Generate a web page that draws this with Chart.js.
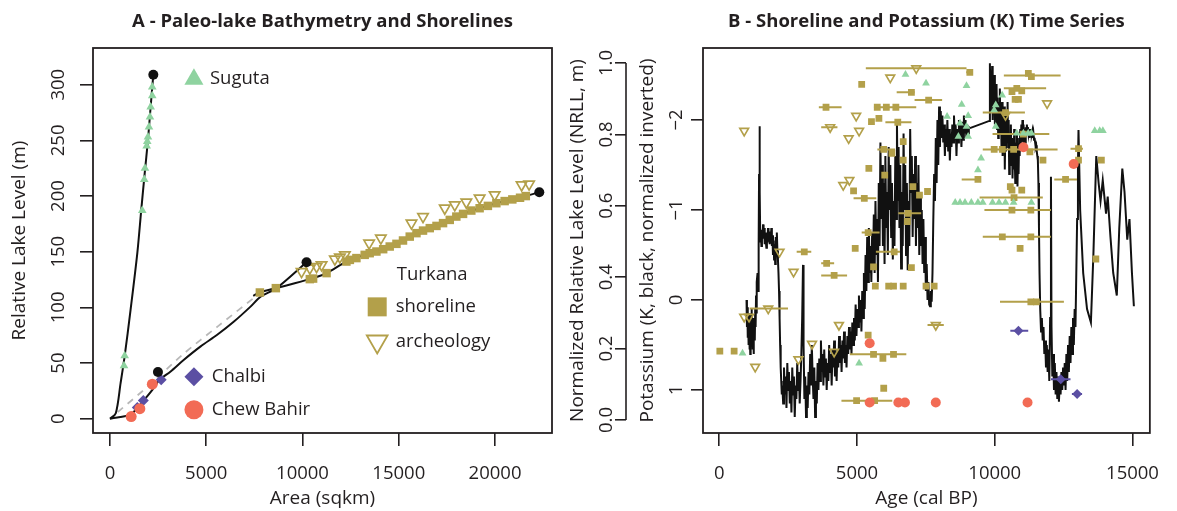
<!DOCTYPE html>
<html>
<head>
<meta charset="utf-8">
<script src="https://cdn.jsdelivr.net/npm/chart.js@4.4.1/dist/chart.umd.min.js"></script>
<style>
  html, body { margin: 0; padding: 0; background: #fff; }
  #wrap { position: relative; width: 1177px; height: 511px; overflow: hidden; }
  #chartA { position: absolute; left: 0; top: 0; }
  #chartB { position: absolute; left: 565px; top: 0; }
</style>
</head>
<body>
<div id="wrap">
  <canvas id="chartA" width="565" height="511"></canvas>
  <canvas id="chartB" width="612" height="511"></canvas>
</div>
<script>
/* ---------- panel A: bathymetry (area in sqkm, level in m) ---------- */
const areaTicks = [0, 5000, 10000, 15000, 20000];
const levelTicks = [0, 50, 100, 150, 200, 250, 300];

const sugutaCurve = [[0, 0], [300, 5], [550, 32], [760, 56], [1070, 98], [1420, 149], [1620, 187], [1800, 220], [1970, 250], [2110, 280], [2250, 309]];
const turkanaLowCurve = [[0, 0], [380, 1.2], [900, 2.7], [1160, 5], [1500, 11], [1850, 18.5], [2200, 26], [2540, 34.4], [3150, 42.5], [3840, 53], [4710, 65], [5570, 75.4], [6440, 87.3], [7300, 100.7], [7820, 109.6], [8650, 117.3], [10210, 140.6]];
const turkanaHighCurve = [[7440, 110.4], [7785, 113.4], [8615, 117.3], [10380, 125.4], [11250, 130.8], [12280, 141.2], [13230, 147.2], [14190, 152.3], [15220, 160.1], [16260, 169], [17300, 175.7], [18340, 184], [19200, 189.1], [20070, 193.6], [21490, 199.5], [22300, 203.5]];
const fitCurve = [[400, 6], [2100, 31], [3800, 58], [5600, 83], [7800, 113]];
const curveEnds = [[2250, 309], [2490, 42], [10210, 140.6], [22300, 203.5]];

const sugutaA = [[2195, 298], [2195, 290], [2112, 280], [2076, 271], [2024, 262], [1972, 253], [1936, 249], [1905, 245], [1816, 225], [1780, 215], [1676, 187], [763, 56.6], [727, 47.6]];
const chalbiA = [[1420, 10], [1730, 16.4], [2660, 35]];
const chewBahirA = [[1100, 2], [1550, 9], [2200, 31]];
const shorelineA = [[7785, 113.4], [8615, 117.3], [10380, 125.4], [10550, 125.9], [11250, 130.8], [12280, 141.2], [12460, 142.7], [12800, 144.3], [13230, 147.2], [13490, 148.7], [13840, 150.2], [14190, 152.3], [14530, 154.7], [14880, 157.1], [15220, 160.1], [15570, 163.6], [15920, 166.7], [16260, 169], [16610, 171.2], [16960, 173.2], [17300, 175.7], [17650, 178.6], [17990, 181.6], [18340, 184], [18770, 187], [19200, 189.1], [19630, 191.2], [20070, 193.6], [20500, 195.5], [20900, 197], [21300, 198.5], [21600, 200]];
const archeologyA = [[9950, 132.2], [10380, 135.3], [10730, 136.7], [10990, 138.2], [11680, 143.4], [11940, 145.2], [12200, 147.2], [13460, 157.7], [14070, 162.2], [15660, 175.7], [16260, 181.6], [17390, 189.1], [17910, 192.1], [18510, 194.5], [19200, 198.1], [19980, 201.1], [21380, 210], [21770, 210.7]];

/* ---------- panel B: time series (age cal BP) ---------- */
const ageTicks = [0, 5000, 10000, 15000];
const nrllTicks = [0, 0.2, 0.4, 0.6, 0.8, 1.0];
const kTicks = [-2, -1, 0, 1];

// potassium record, [age, K normalised]
const kSeries = [
  [990, 0.0], [1005, 0.3], [1020, 0.08], [1035, 0.42], [1050, 0.2], [1065, 0.5], [1080, 0.15], [1095, 0.55], [1110, 0.3], [1125, 0.6], [1140, 0.25], [1155, 0.48], [1170, 0.1], [1185, 0.38], [1200, 0.2], [1215, 0.55], [1230, 0.35], [1245, 0.6], [1260, 0.4], [1275, 0.2], [1290, 0.45], [1305, 0.1], [1320, 0.3], [1335, -0.05], [1350, 0.15], [1370, -0.2], [1390, -0.3], [1410, -0.1], [1430, -0.6], [1445, -1.4], [1460, -1.93], [1475, -1.2], [1490, -0.65],
  [1510, -0.72], [1530, -0.6], [1550, -0.78], [1570, -0.68], [1590, -0.84], [1610, -0.7], [1630, -0.8], [1650, -0.62], [1670, -0.75], [1690, -0.66], [1710, -0.58], [1730, -0.72], [1750, -0.64], [1770, -0.8], [1790, -0.7], [1810, -0.76], [1830, -0.62], [1850, -0.7], [1870, -0.65], [1890, -0.8], [1910, -0.6], [1930, -0.72], [1950, -0.5], [1970, -0.66], [1990, -0.45], [2010, -0.62], [2030, -0.4], [2050, -0.7], [2070, -0.5], [2090, -0.75], [2110, -0.55], [2130, -0.45], [2150, -0.3], [2170, -0.1], [2190, 0.2], [2210, 0.5], [2230, 0.75], [2250, 0.9], [2270, 1.05],
  [2290, 0.95], [2320, 1.15], [2350, 0.75], [2380, 1.05], [2410, 0.85], [2440, 1.2], [2470, 0.7], [2500, 1.0], [2530, 0.8], [2560, 1.15], [2590, 0.9], [2620, 1.25], [2650, 0.75], [2680, 1.05], [2710, 0.85], [2740, 1.3], [2770, 0.95], [2800, 1.1], [2830, 0.7], [2860, 1.0], [2890, 0.8], [2920, 1.15], [2950, 0.9], [2980, 0.6], [3010, 0.2], [3040, -0.39], [3060, 0.5], [3090, 1.1], [3120, 0.85], [3150, 1.3], [3180, 0.95], [3210, 1.2], [3240, 0.8], [3270, 1.05], [3300, 0.6], [3330, 0.95], [3360, 0.5], [3390, 0.85], [3420, 1.1], [3450, 0.75], [3480, 1.3], [3510, 0.9], [3540, 1.15], [3570, 0.7], [3600, 1.0], [3630, 0.65], [3660, 0.9], [3690, 0.45], [3720, 0.8], [3750, 0.6], [3780, 0.95], [3810, 0.55], [3840, 0.85], [3870, 0.65], [3900, 1.0], [3930, 0.7], [3960, 0.9], [3990, 0.5], [4020, 0.8], [4050, 0.6], [4080, 0.95], [4110, 0.55], [4140, 0.75], [4170, 0.45], [4200, 0.85], [4230, 0.6], [4260, 0.9], [4290, 0.55], [4320, 0.75], [4350, 0.4], [4380, 0.7], [4410, 0.5], [4440, 0.8], [4470, 0.45], [4500, 0.65], [4530, 0.35], [4560, 0.7], [4590, 0.5], [4620, 0.75], [4650, 0.4], [4680, 0.6], [4710, 0.3], [4740, 0.55], [4770, 0.35], [4800, 0.6], [4830, 0.25], [4860, 0.5], [4890, 0.2], [4920, 0.45], [4950, 0.05], [4980, 0.4], [5010, 0.1], [5040, 0.3], [5070, -0.05], [5100, 0.25], [5130, 0.0], [5160, 0.35], [5190, -0.1], [5220, 0.2], [5250, -0.3], [5280, 0.1], [5310, -0.5], [5340, -0.1], [5370, -0.7], [5400, -0.2], [5430, -0.8], [5460, -0.3], [5490, -0.6], [5520, -0.2], [5550, -0.75], [5580, -0.4], [5610, -0.95], [5640, -0.3], [5670, -1.1], [5700, -0.5], [5730, -0.9], [5760, -0.2], [5790, -1.3], [5820, -0.6],
  [5850, -1.75], [5880, -0.9], [5910, -1.5], [5940, -0.6], [5970, -1.3], [6000, -0.4], [6030, -1.6], [6060, -0.8], [6090, -1.2], [6120, -0.5], [6150, -1.7], [6180, -1.0], [6210, -1.5], [6240, -0.7], [6270, -1.3], [6300, -0.45], [6330, -1.1], [6360, -0.6], [6390, -1.6], [6420, -0.9], [6450, -1.98], [6480, -1.1], [6510, -1.7], [6540, -0.8], [6570, -1.5], [6600, -0.35], [6630, -1.2], [6660, -0.6], [6690, -1.85], [6720, -1.0], [6750, -1.5], [6780, -0.5], [6810, -1.3], [6840, -0.33], [6870, -1.1], [6900, -0.6], [6930, -1.9], [6960, -1.2], [6990, -1.6], [7020, -0.7], [7050, -1.4], [7080, -0.9], [7110, -1.6], [7140, -0.6], [7170, -1.3], [7200, -0.8], [7230, -1.5], [7260, -0.5], [7290, -1.2], [7320, -0.6], [7350, -1.0], [7380, -0.4], [7410, -0.9], [7440, -0.3], [7470, -0.7], [7500, -0.1], [7530, -0.4], [7560, 0.0], [7590, -0.2], [7620, 0.05], [7650, 0.07], [7680, -0.1], [7710, 0.02], [7740, -0.3], [7770, -0.9], [7800, -1.4], [7830, -1.1], [7860, -1.8], [7890, -1.3], [7920, -2.0], [7950, -1.5], [7980, -2.15], [8010, -1.7], [8040, -2.1],
  [8070, -1.8], [8100, -2.05], [8130, -1.75], [8160, -1.95], [8190, -1.6], [8220, -1.9], [8250, -1.7], [8280, -2.0], [8310, -1.65], [8340, -1.9], [8370, -1.55], [8400, -1.85], [8430, -1.7], [8460, -1.95], [8490, -1.75], [8520, -2.05], [8550, -1.8], [8580, -1.95], [8610, -1.6], [8640, -1.9], [8670, -1.75], [8700, -2.0], [8730, -1.8], [8760, -1.95], [8790, -1.7], [8820, -1.98], [8850, -1.78], [8880, -2.05], [8910, -1.85], [8940, -2.0], [8970, -1.8], [9000, -1.95], [9030, -1.85], [9060, -1.92], [9096, -1.91], [9803, -1.99],
  [9824, -2.63], [9845, -2.1], [9865, -2.55], [9885, -2.2], [9905, -2.6], [9925, -2.0], [9945, -2.45], [9965, -2.15], [9985, -2.5], [10005, -1.95], [10025, -2.3], [10045, -2.05], [10065, -2.4], [10085, -1.9], [10105, -2.25], [10125, -1.8], [10145, -2.2], [10165, -1.95], [10185, -2.35], [10205, -1.85], [10225, -2.1], [10245, -1.7], [10265, -2.2], [10285, -1.6], [10305, -2.0], [10325, -1.75], [10345, -2.15], [10365, -1.45], [10385, -1.9], [10405, -1.65], [10425, -2.05], [10445, -1.8], [10465, -2.2], [10485, -1.7], [10505, -2.0], [10525, -1.4], [10545, -1.85], [10565, -1.6], [10585, -1.95], [10605, -1.5], [10625, -1.8], [10645, -1.35], [10665, -1.7], [10685, -1.45], [10705, -1.9], [10725, -1.6], [10745, -1.3], [10765, -1.75], [10785, -1.55], [10805, -1.85], [10825, -1.26], [10845, -1.65], [10865, -1.4], [10885, -1.8], [10905, -1.6], [10925, -1.9], [10945, -1.7], [10965, -1.95], [10985, -1.75], [11005, -2.0], [11025, -1.8], [11045, -1.95], [11065, -1.7], [11085, -1.9], [11105, -1.75], [11125, -1.92], [11145, -1.85], [11165, -1.95], [11185, -1.88], [11205, -1.92], [11225, -1.85], [11245, -1.9], [11265, -1.8], [11285, -1.88], [11305, -1.82], [11325, -1.9], [11345, -1.85], [11365, -1.88], [11385, -1.8], [11405, -1.85], [11425, -1.78], [11445, -1.8], [11465, -1.75], [11485, -1.7], [11505, -1.72], [11525, -1.65], [11545, -1.6], [11565, -1.55], [11585, -1.3], [11605, -0.8], [11625, -0.3], [11650, 0.1], [11680, 0.35], [11710, 0.2], [11740, 0.45],
  [11770, 0.3], [11800, 0.6], [11830, 0.45], [11860, 0.75], [11890, 0.5], [11920, 0.8], [11950, 0.55], [11980, 0.9], [12010, 0.2], [12040, -1.37], [12060, 0.3], [12090, 0.85], [12120, 0.6], [12150, 1.0], [12180, 0.7], [12210, 1.05], [12240, 0.8], [12270, 1.1], [12300, 0.85], [12330, 1.13], [12360, 0.9], [12390, 1.05], [12420, 0.8], [12450, 1.0], [12480, 0.75], [12510, 0.95], [12540, 0.7], [12570, 1.0], [12600, 0.6], [12630, 0.9], [12660, 0.5], [12690, 0.8], [12720, 0.4], [12750, 0.7], [12780, 0.3], [12810, 0.6], [12840, 0.2], [12870, 0.5], [12900, 0.1], [12930, 0.3], [12960, -0.3], [12990, -0.9], [13020, -1.5], [13040, -1.89],
  [13100, -1.0], [13210, -0.3], [13350, 0.1], [13490, 0.25], [13580, -0.5], [13685, -1.6], [13770, -1.3], [13840, -1.1], [13920, -1.33], [14040, -0.96], [14100, -1.15], [14200, -0.7], [14300, -0.3], [14430, -0.05], [14520, -0.8], [14630, -1.46], [14710, -1.2], [14810, -0.67], [14890, -0.9], [14980, -0.3], [15050, 0.07]
];

// dated shorelines and sites, [age, NRLL]
const shorelineB = [[21, 0.193], [540, 0.193], [3086, 0.471], [3898, 0.439], [4170, 0.405], [3875, 0.876], [5170, 0.940], [5735, 0.876], [6065, 0.876], [6410, 0.876], [5525, 0.836], [5795, 0.845], [6480, 0.834], [5430, 0.705], [4875, 0.642], [5265, 0.621], [5405, 0.525], [4935, 0.481], [5405, 0.238], [5600, 0.184], [5940, 0.173], [6325, 0.184], [4985, 0.054], [5640, 0.054], [9095, 0.974], [6975, 0.918], [7600, 0.896], [5970, 0.758], [6267, 0.747], [6677, 0.780], [6677, 0.728], [6006, 0.686], [7030, 0.654], [7268, 0.630], [7560, 0.640], [6855, 0.579], [9390, 0.674], [11220, 0.971], [11330, 0.962], [10625, 0.920], [10800, 0.929], [10980, 0.922], [10740, 0.898], [10860, 0.898], [10390, 0.861], [9980, 0.758], [10275, 0.758], [10685, 0.758], [11275, 0.751], [11750, 0.728], [10565, 0.654], [10625, 0.644], [10980, 0.644], [13040, 0.760], [13040, 0.728], [13870, 0.728], [12570, 0.674], [10625, 0.588], [11310, 0.588], [10275, 0.513], [11310, 0.513], [10920, 0.481], [11310, 0.331], [11510, 0.331], [13670, 0.451], [6830, 0.556], [6350, 0.471], [6975, 0.427], [5665, 0.375], [6150, 0.375], [6325, 0.375], [6677, 0.375], [7505, 0.375], [7800, 0.375], [5970, 0.089], [5600, 0.429], [11040, 0.801], [10700, 0.623]];
// age ranges, [from, to, NRLL]
const shorelineRangesB = [[2810, 3340, 0.471], [3700, 4170, 0.439], [3700, 4640, 0.405], [3615, 4440, 0.876], [4875, 5700, 0.621], [5170, 5820, 0.525], [4740, 6790, 0.184], [4435, 6280, 0.054], [6440, 7090, 0.918], [7090, 8090, 0.896], [5615, 7150, 0.876], [6030, 6975, 0.834], [5740, 6385, 0.758], [6500, 7330, 0.579], [8800, 9500, 0.674], [8965, 9210, 0.974], [10330, 12390, 0.965], [10330, 11865, 0.929], [9565, 11095, 0.861], [9920, 11980, 0.801], [9565, 12280, 0.758], [12160, 12985, 0.674], [9450, 11745, 0.623], [9625, 12040, 0.588], [9565, 12040, 0.513], [10190, 12510, 0.331], [5685, 6560, 0.471], [12750, 13200, 0.760]];
const archeologyB = [[905, 0.810], [4970, 0.852], [4026, 0.820], [5076, 0.810], [4698, 0.789], [4723, 0.672], [4500, 0.658], [2188, 0.471], [2697, 0.415], [905, 0.289], [1082, 0.289], [1778, 0.312], [1305, 0.149], [2873, 0.170], [3368, 0.213], [4345, 0.266], [4170, 0.191], [7150, 0.985], [6207, 0.959], [11900, 0.887], [10390, 0.854], [7860, 0.266]];
const archeologyRangesB = [[5320, 8975, 0.985], [3700, 4290, 0.820], [1105, 2495, 0.312], [7560, 8150, 0.266]];
const sugutaB = [[845, 0.187], [5076, 0.159], [6760, 0.968], [7505, 0.943], [8975, 0.936], [8270, 0.850], [8800, 0.884], [9035, 0.852], [8740, 0.831], [8975, 0.822], [8680, 0.794], [9035, 0.794], [9505, 0.733], [9390, 0.700], [10270, 0.910], [10035, 0.882], [9980, 0.868], [10035, 0.822], [10800, 0.803], [11040, 0.803], [11215, 0.803], [11330, 0.803], [13630, 0.810], [13810, 0.810], [13925, 0.810], [8565, 0.609], [8740, 0.609], [8920, 0.609], [9150, 0.609], [9390, 0.609], [9565, 0.609], [9920, 0.609], [10155, 0.609], [10390, 0.609], [10685, 0.609], [11330, 0.609]];
const chewBahirB = [[5460, 0.215], [5460, 0.049], [6500, 0.049], [6740, 0.049], [7860, 0.049], [11190, 0.049], [11040, 0.764], [12865, 0.717]];
const chalbiB = [[10860, 0.250], [12395, 0.114], [12990, 0.073]];
const chalbiRangesB = [[10565, 11215, 0.250], [12040, 12750, 0.114], [12800, 13170, 0.073]];

/* ---------- styling ---------- */
const FONT = "'Open Sans', 'DejaVu Sans', sans-serif";
const INK = '#231f20';
const OLIVE = '#b3a04a';
const GREEN = '#8fd3a0';
const RED = '#f26b55';
const PURPLE = '#5b4fa3';

Chart.defaults.font.family = FONT;
Chart.defaults.color = INK;

const xy = pairs => pairs.map(([x, y]) => ({ x, y }));
// horizontal range segments separated by gaps
const rangeSegments = ranges => ranges.flatMap(([lo, hi, y]) => [{ x: lo, y }, { x: hi, y }, { x: hi, y: null }]);

function tickAxis(extra) {
  return Object.assign({
    type: 'linear',
    border: { display: false },
    grid: { drawOnChartArea: false, drawTicks: true, tickLength: 13, color: INK, lineWidth: 1.6 },
  }, extra);
}

const frame = {
  id: 'frame',
  afterDraw(chart) {
    const { ctx, chartArea: a } = chart;
    ctx.save();
    ctx.strokeStyle = INK;
    ctx.lineWidth = 1.8;
    ctx.strokeRect(a.left, a.top, a.right - a.left, a.bottom - a.top);
    ctx.restore();
  }
};

function markerPath(ctx, shape, x, y, r) {
  ctx.beginPath();
  if (shape === 'triUp') {
    ctx.moveTo(x, y - r); ctx.lineTo(x + r * 0.866, y + r * 0.5); ctx.lineTo(x - r * 0.866, y + r * 0.5);
  } else if (shape === 'triDown') {
    ctx.moveTo(x, y + r); ctx.lineTo(x + r * 0.866, y - r * 0.5); ctx.lineTo(x - r * 0.866, y - r * 0.5);
  } else if (shape === 'diamond') {
    ctx.moveTo(x, y - r); ctx.lineTo(x + r, y); ctx.lineTo(x, y + r); ctx.lineTo(x - r, y);
  } else if (shape === 'square') {
    ctx.rect(x - r, y - r, 2 * r, 2 * r);
  } else {
    ctx.arc(x, y, r, 0, Math.PI * 2);
  }
  ctx.closePath();
}

// legend entries for panel A, placed in data units like an R legend
const legendA = {
  id: 'legendA',
  afterDatasetsDraw(chart) {
    const { ctx, scales: { x, y } } = chart;
    const items = [
      { shape: 'triUp', fill: GREEN, mx: 4360, tx: 5190, ly: 305, r: 11, text: 'Suguta' },
      { shape: 'diamond', fill: PURPLE, mx: 4360, tx: 5290, ly: 37.7, r: 9.5, text: 'Chalbi' },
      { shape: 'circle', fill: RED, mx: 4360, tx: 5290, ly: 8, r: 9.5, text: 'Chew Bahir' },
      { shape: null, tx: 14900, ly: 129, text: 'Turkana' },
      { shape: 'square', fill: OLIVE, mx: 13880, tx: 14840, ly: 100.5, r: 9.5, text: 'shoreline' },
      { shape: 'triDown', stroke: OLIVE, mx: 13880, tx: 14840, ly: 69.4, r: 12, text: 'archeology' }
    ];
    ctx.save();
    ctx.font = '18.5px ' + FONT;
    ctx.textAlign = 'left';
    ctx.textBaseline = 'middle';
    items.forEach(it => {
      const py = y.getPixelForValue(it.ly);
      if (it.shape) {
        markerPath(ctx, it.shape, x.getPixelForValue(it.mx), py, it.r);
        if (it.fill) { ctx.fillStyle = it.fill; ctx.fill(); }
        if (it.stroke) { ctx.strokeStyle = it.stroke; ctx.lineWidth = 1.8; ctx.stroke(); }
      }
      ctx.fillStyle = INK;
      ctx.fillText(it.text, x.getPixelForValue(it.tx), py);
    });
    ctx.restore();
  }
};

// the NRLL axis line only spans its own tick range
const nrllAxisLine = {
  id: 'nrllAxisLine',
  afterDraw(chart) {
    const s = chart.scales.yN;
    const { ctx } = chart;
    ctx.save();
    ctx.strokeStyle = INK;
    ctx.lineWidth = 1.6;
    ctx.beginPath();
    ctx.moveTo(s.right, s.getPixelForValue(nrllTicks[0]));
    ctx.lineTo(s.right, s.getPixelForValue(nrllTicks[nrllTicks.length - 1]));
    ctx.stroke();
    ctx.restore();
  }
};

const common = {
  responsive: false,
  animation: false,
  devicePixelRatio: 1,
  events: []
};

const tickFont = { size: 18.5 };
const axisTitleFont = { size: 19 };
const mainTitle = text => ({
  display: true, fullSize: false, text,
  color: INK, font: { size: 18.5, weight: 'bold' }, padding: { top: 10.9, bottom: 14.9 }
});

/* ---------- chart A ---------- */
new Chart(document.getElementById('chartA'), {
  type: 'scatter',
  data: {
    datasets: [
      { data: xy(curveEnds), pointRadius: 5, pointBackgroundColor: '#111', pointBorderWidth: 0, order: 0 },
      { data: xy(chewBahirA), pointRadius: 5.5, pointBackgroundColor: RED, pointBorderWidth: 0, order: 1 },
      { data: xy(chalbiA), pointStyle: 'rectRot', pointRadius: 5.5, pointBackgroundColor: PURPLE, pointBorderWidth: 0, order: 1 },
      { data: xy(sugutaA), pointStyle: 'triangle', pointRadius: 5, pointBackgroundColor: GREEN, pointBorderWidth: 0, order: 1 },
      { data: xy(archeologyA), pointStyle: 'triangle', pointRotation: 180, pointRadius: 6, pointBackgroundColor: 'rgba(0,0,0,0)', pointBorderColor: OLIVE, pointBorderWidth: 1.7, order: 2 },
      { data: xy(shorelineA), pointStyle: 'rect', pointRadius: 6, pointBackgroundColor: OLIVE, pointBorderWidth: 0, order: 2 },
      { data: xy(sugutaCurve), showLine: true, pointRadius: 0, borderColor: '#111', borderWidth: 2, tension: 0.3, order: 3 },
      { data: xy(turkanaLowCurve), showLine: true, pointRadius: 0, borderColor: '#111', borderWidth: 2, tension: 0.3, order: 3 },
      { data: xy(turkanaHighCurve), showLine: true, pointRadius: 0, borderColor: '#111', borderWidth: 2, tension: 0.3, order: 3 },
      { data: xy(fitCurve), showLine: true, pointRadius: 0, borderColor: '#b8b8b8', borderWidth: 1.8, borderDash: [7, 6], tension: 0.3, order: 4 }
    ]
  },
  options: Object.assign({}, common, {
    layout: { padding: { left: 0, right: 13, top: 0, bottom: 0 } },
    plugins: {
      legend: { display: false },
      tooltip: { enabled: false },
      title: mainTitle('A - Paleo-lake Bathymetry and Shorelines')
    },
    scales: {
      x: tickAxis({
        min: -883, max: 22960,
        afterBuildTicks: s => { s.ticks = areaTicks.map(v => ({ value: v })); },
        afterFit: s => { s.height = 78; },
        ticks: { autoSkip: false, maxRotation: 0, padding: 17, font: tickFont, color: INK, callback: v => String(v) },
        title: { display: true, text: 'Area (sqkm)', color: INK, font: axisTitleFont, padding: { top: 0, bottom: 0.6 } }
      }),
      y: tickAxis({
        min: -12.8, max: 333,
        afterBuildTicks: s => { s.ticks = levelTicks.map(v => ({ value: v })); },
        afterFit: s => { s.width = 93; },
        ticks: { autoSkip: false, minRotation: 90, maxRotation: 90, crossAlign: 'center', padding: 5.8, font: tickFont, color: INK, callback: v => String(v) },
        title: { display: true, text: 'Relative Lake Level (m)', color: INK, font: axisTitleFont, padding: { top: 8.6, bottom: 0 } }
      })
    }
  }),
  plugins: [frame, legendA]
});

/* ---------- chart B ---------- */
new Chart(document.getElementById('chartB'), {
  type: 'scatter',
  data: {
    datasets: [
      { data: xy(chewBahirB), yAxisID: 'yN', pointRadius: 5, pointBackgroundColor: RED, pointBorderWidth: 0, order: 0 },
      { data: xy(chalbiB), yAxisID: 'yN', pointStyle: 'rectRot', pointRadius: 5, pointBackgroundColor: PURPLE, pointBorderWidth: 0, order: 0 },
      { data: rangeSegments(chalbiRangesB), yAxisID: 'yN', showLine: true, spanGaps: false, pointRadius: 0, borderColor: PURPLE, borderWidth: 2, order: 1 },
      { data: xy(sugutaB), yAxisID: 'yN', pointStyle: 'triangle', pointRadius: 4.5, pointBackgroundColor: GREEN, pointBorderWidth: 0, order: 2 },
      { data: xy(archeologyB), yAxisID: 'yN', pointStyle: 'triangle', pointRotation: 180, pointRadius: 5, pointBackgroundColor: 'rgba(0,0,0,0)', pointBorderColor: OLIVE, pointBorderWidth: 1.7, order: 3 },
      { data: xy(shorelineB), yAxisID: 'yN', pointStyle: 'rect', pointRadius: 4.8, pointBackgroundColor: OLIVE, pointBorderWidth: 0, order: 3 },
      { data: rangeSegments(shorelineRangesB.concat(archeologyRangesB)), yAxisID: 'yN', showLine: true, spanGaps: false, pointRadius: 0, borderColor: OLIVE, borderWidth: 2, order: 4 },
      { data: xy(kSeries), yAxisID: 'yK', showLine: true, pointRadius: 0, borderColor: '#111', borderWidth: 2, tension: 0, order: 5 }
    ]
  },
  options: Object.assign({}, common, {
    layout: { padding: { left: 0, right: 15.4, top: 0, bottom: 0 } },
    plugins: {
      legend: { display: false },
      tooltip: { enabled: false },
      title: mainTitle('B - Shoreline and Potassium (K) Time Series')
    },
    scales: {
      x: tickAxis({
        min: -590, max: 15630,
        afterBuildTicks: s => { s.ticks = ageTicks.map(v => ({ value: v })); },
        afterFit: s => { s.height = 78; },
        ticks: { autoSkip: false, maxRotation: 0, padding: 17, font: tickFont, color: INK, callback: v => String(v) },
        title: { display: true, text: 'Age (cal BP)', color: INK, font: axisTitleFont, padding: { top: 0, bottom: 0.6 } }
      }),
      yK: tickAxis({
        position: 'left', weight: 0, reverse: true,
        min: -2.8, max: 1.478,
        afterBuildTicks: s => { s.ticks = kTicks.map(v => ({ value: v })); },
        afterFit: s => { s.width = 77; },
        grid: { drawOnChartArea: false, drawTicks: true, tickLength: 12, color: INK, lineWidth: 1.6 },
        ticks: { autoSkip: false, minRotation: 90, maxRotation: 90, crossAlign: 'center', padding: 3.5, font: tickFont, color: INK, callback: v => String(v).replace('-', '\u2212') },
        title: { display: true, text: 'Potassium (K, black, normalized inverted)', color: INK, font: axisTitleFont, padding: { top: 10.6, bottom: 0 } }
      }),
      yN: tickAxis({
        position: 'left', weight: 1,
        min: -0.0364, max: 1.042,
        afterBuildTicks: s => { s.ticks = nrllTicks.map(v => ({ value: v })); },
        afterFit: s => { s.width = 61; },
        grid: { drawOnChartArea: false, drawTicks: true, tickLength: 11, color: INK, lineWidth: 1.6 },
        ticks: { autoSkip: false, minRotation: 90, maxRotation: 90, crossAlign: 'center', padding: -5, font: tickFont, color: INK, callback: v => v.toFixed(1) },
        title: { display: true, text: 'Normalized Relative Lake Level (NRLL, m)', color: INK, font: axisTitleFont, padding: { top: 1.6, bottom: 0 } }
      })
    }
  }),
  plugins: [frame, nrllAxisLine]
});
</script>
</body>
</html>
